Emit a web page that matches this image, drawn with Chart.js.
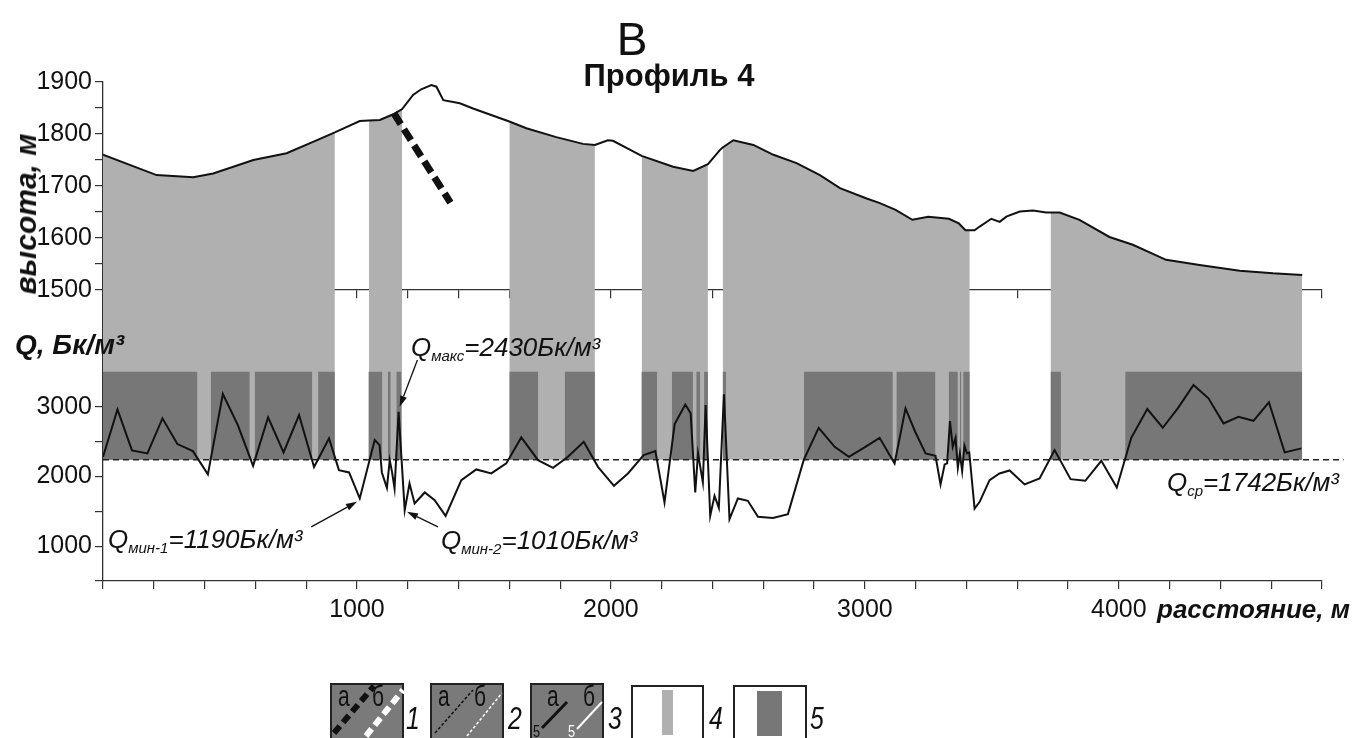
<!DOCTYPE html>
<html>
<head>
<meta charset="utf-8">
<script src="https://cdn.jsdelivr.net/npm/chart.js@4"></script>
<style>
  body { margin: 0; background: #fff; overflow: hidden; }
  #wrap { position: relative; width: 1353px; height: 738px; font-family: "Liberation Sans", Arial, sans-serif; color: #111; }
  #wrap canvas, #wrap svg { position: absolute; left: 0; top: 0; }
  .t { position: absolute; white-space: nowrap; line-height: 1; }
  .q { font-style: italic; font-size: 26px; }
  .q .s { font-size: 15px; position: relative; top: 5px; }
  .bi { font-weight: bold; font-style: italic; }
</style>
</head>
<body>
<div id="wrap">
  <canvas id="chart" width="1353" height="738"></canvas>

  <div class="t" style="left:632px;top:16px;font-size:46px;transform:translateX(-50%)">В</div>
  <div class="t" style="left:669px;top:60px;font-size:31px;font-weight:bold;transform:translateX(-50%)">Профиль 4</div>
  <div class="t bi" style="left:26px;top:214px;font-size:30px;transform:translate(-50%,-50%) rotate(-90deg)">высота, м</div>
  <div class="t bi" style="left:15px;top:331px;font-size:28px">Q, Бк/м³</div>
  <div class="t bi" style="left:1157px;top:596px;font-size:26px">расстояние, м</div>

  <div class="t q" style="left:411px;top:334px">Q<span class="s">макс</span>=2430Бк/м³</div>
  <div class="t q" style="left:108px;top:526px">Q<span class="s">мин-1</span>=1190Бк/м³</div>
  <div class="t q" style="left:441px;top:527px">Q<span class="s">мин-2</span>=1010Бк/м³</div>
  <div class="t q" style="left:1167px;top:469px">Q<span class="s">ср</span>=1742Бк/м³</div>

  <svg width="1353" height="738" font-family="Liberation Sans, Arial, sans-serif">
    <!-- 1 -->
    <rect x="331" y="684" width="72" height="60" fill="#7a7a7a" stroke="#222" stroke-width="2"/>
    <text transform="translate(338,706) scale(0.7,1)" font-size="30" fill="#111">а</text>
    <text transform="translate(372,706) scale(0.7,1)" font-size="30" fill="#111">б</text>
    <line x1="334" y1="733" x2="374" y2="686" stroke="#111" stroke-width="6" stroke-dasharray="9 5"/>
    <line x1="366" y1="736" x2="403" y2="690" stroke="#fff" stroke-width="6" stroke-dasharray="9 5"/>
    <text transform="translate(406,729) scale(0.8,1)" font-size="31" font-style="italic" fill="#111">1</text>
    <!-- 2 -->
    <rect x="431" y="684" width="72" height="60" fill="#7a7a7a" stroke="#222" stroke-width="2"/>
    <text transform="translate(438,706) scale(0.7,1)" font-size="30" fill="#111">а</text>
    <text transform="translate(474,706) scale(0.7,1)" font-size="30" fill="#111">б</text>
    <line x1="435" y1="733" x2="473" y2="690" stroke="#111" stroke-width="1.5" stroke-dasharray="3 2"/>
    <line x1="467" y1="736" x2="502" y2="693" stroke="#fff" stroke-width="1.5" stroke-dasharray="3 2"/>
    <text transform="translate(508,729) scale(0.8,1)" font-size="31" font-style="italic" fill="#111">2</text>
    <!-- 3 -->
    <rect x="531" y="684" width="72" height="60" fill="#7a7a7a" stroke="#222" stroke-width="2"/>
    <text transform="translate(547,706) scale(0.7,1)" font-size="30" fill="#111">а</text>
    <text transform="translate(583,706) scale(0.7,1)" font-size="30" fill="#111">б</text>
    <text transform="translate(533,737) scale(0.8,1)" font-size="16" fill="#111">5</text>
    <text transform="translate(568,737) scale(0.8,1)" font-size="16" fill="#fff">5</text>
    <line x1="542" y1="728" x2="567" y2="702" stroke="#111" stroke-width="3"/>
    <line x1="577" y1="729" x2="602" y2="702" stroke="#fff" stroke-width="2"/>
    <text transform="translate(608,729) scale(0.8,1)" font-size="31" font-style="italic" fill="#111">3</text>
    <!-- 4 -->
    <rect x="632" y="686" width="71" height="60" fill="#fff" stroke="#222" stroke-width="2"/>
    <rect x="662" y="690" width="11" height="45" fill="#b0b0b0"/>
    <text transform="translate(709,729) scale(0.8,1)" font-size="31" font-style="italic" fill="#111">4</text>
    <!-- 5 -->
    <rect x="734" y="686" width="72" height="60" fill="#fff" stroke="#222" stroke-width="2"/>
    <rect x="757" y="691" width="25" height="45" fill="#777"/>
    <text transform="translate(810,729) scale(0.8,1)" font-size="31" font-style="italic" fill="#111">5</text>
  </svg>
</div>

<script>
// высотный профиль (м)
const profileDist = [0, 211, 355, 434, 592, 723, 827, 913, 1011, 1047, 1090, 1143, 1178, 1221, 1253, 1293, 1313, 1340, 1405, 1457,
  1600, 1667, 1785, 1890, 1937, 1988, 2008, 2121, 2245, 2324, 2382, 2429, 2440, 2482, 2561, 2640, 2731, 2823, 2902, 3007,
  3059, 3121, 3187, 3250, 3331, 3370, 3396, 3413, 3432, 3452, 3498, 3531, 3557, 3610, 3662, 3714, 3731, 3767, 3845, 3963,
  4055, 4186, 4318, 4476, 4607, 4722];
const profileElev = [1760, 1721, 1717, 1724, 1750, 1763, 1785, 1803, 1825, 1826, 1827, 1838, 1848, 1875, 1886, 1894, 1891, 1865, 1859, 1849,
  1824, 1811, 1794, 1781, 1779, 1788, 1787, 1758, 1737, 1729, 1742, 1769, 1774, 1788, 1779, 1760, 1744, 1721, 1696, 1676,
  1667, 1654, 1635, 1641, 1637, 1628, 1615, 1615, 1615, 1622, 1637, 1631, 1641, 1651, 1653, 1649, 1649, 1649, 1635, 1602,
  1587, 1558, 1548, 1537, 1532, 1529];

// объёмная активность Q (Бк/м3)
const qDist = [0, 57, 114, 175, 234, 293, 354, 413, 472, 531, 591, 650, 711, 772, 831, 890, 929, 969, 1011, 1070,
  1089, 1098, 1118, 1129, 1138, 1148, 1164, 1188, 1207, 1227, 1267, 1306, 1349, 1411, 1470, 1529, 1588, 1647, 1713, 1772,
  1831, 1893, 1949, 2012, 2067, 2129, 2175, 2211, 2251, 2293, 2314, 2332, 2343, 2362, 2373, 2391, 2408, 2425, 2445, 2467,
  2500, 2539, 2579, 2638, 2697, 2759, 2818, 2881, 2937, 2999, 3058, 3117, 3160, 3198, 3239, 3278, 3298, 3314, 3324, 3335,
  3346, 3357, 3366, 3374, 3383, 3392, 3402, 3411, 3432, 3452, 3491, 3530, 3570, 3629, 3688, 3747, 3810, 3868, 3931, 3992,
  4049, 4112, 4173, 4232, 4294, 4353, 4412, 4471, 4530, 4591, 4653, 4719];
const qValues = [2280, 2962, 2373, 2330, 2833, 2464, 2363, 2029, 3182, 2737, 2152, 2847, 2345, 2880, 2134, 2546, 2090, 2057, 1684, 2521,
  2449, 2057, 1836, 2234, 2066, 1828, 2928, 1516, 1899, 1612, 1770, 1660, 1434, 1947, 2100, 2043, 2187, 2560, 2234, 2124,
  2282, 2497, 2138, 1865, 2043, 2306, 2363, 1627, 2750, 3030, 2905, 1770, 2330, 1914, 3024, 1434, 1721, 1549, 3178, 1387,
  1684, 1650, 1420, 1405, 1459, 2234, 2698, 2425, 2282, 2416, 2554, 2187, 2976, 2641, 2330, 2296, 1885, 2172, 2187, 2794,
  2425, 2554, 2124, 2330, 2076, 2440, 2330, 2345, 1540, 1636, 1947, 2043, 2086, 1885, 1971, 2378, 1961, 1937, 2224, 1842,
  2554, 2966, 2698, 2976, 3311, 3120, 2761, 2856, 2798, 3063, 2345, 2402];

// зоны (м): светлые (4) и тёмные (5)
const lightZones = [[0, 913], [1047, 1178], [1600, 1937], [2121, 2382], [2440, 3413], [3731, 4722]];
const darkZones = [[0, 372], [424, 578], [597, 824], [847, 913], [1045, 1100], [1122, 1133], [1155, 1175],
  [1600, 1713], [1818, 1937], [2120, 2182], [2240, 2323], [2336, 2352], [2367, 2382], [2440, 2454],
  [2760, 3110], [3124, 3278], [3330, 3366], [3374, 3380], [3387, 3413], [3731, 3772], [4025, 4722]];
const darkTop = 3500;
const qMean = 2240;
const qMeanEnd = 4885;

// разлом (линия 1а)
const faultDist = [1145, 1368];
const faultElev = [1840, 1668];

// деления осей
const distTicks = [0, 200, 400, 600, 800, 1000, 1200, 1400, 1600, 1800, 2000, 2200, 2400, 2600, 2800, 3000,
  3200, 3400, 3600, 3800, 4000, 4200, 4400, 4600, 4800];
const elevTicks = [1500, 1550, 1600, 1650, 1700, 1750, 1800, 1850, 1900];
const qTicks = [500, 1000, 1500, 2000, 2500, 3000];

// стрелки подписей: [расстояние, Q]
const arrows = [
  { from: [1238, 3670], to: [1168, 3000] },
  { from: [820, 1276], to: [1000, 1635] },
  { from: [1319, 1276], to: [1197, 1492] }
];

const LIGHT = '#b0b0b0';
const DARK = '#777777';
const INK = '#111111';
const Q_MAX = 4674;

const profile = profileDist.map((d, i) => ({ x: d, y: profileElev[i] }));
const qSeries = qDist.map((d, i) => ({ x: d, y: qValues[i] }));

const datasets = [];

datasets.push({
  data: profile, yAxisID: 'yE', borderColor: INK, borderWidth: 2,
  pointRadius: 0, fill: false, order: 1
});
datasets.push({
  data: qSeries, yAxisID: 'yQ', borderColor: INK, borderWidth: 2,
  pointRadius: 0, fill: false, order: 1
});
datasets.push({
  data: [{ x: 0, y: qMean }, { x: qMeanEnd, y: qMean }], yAxisID: 'yQ',
  borderColor: '#222', borderWidth: 1.5, borderDash: [6, 4], pointRadius: 0, fill: false, clip: false, order: 2
});
datasets.push({
  data: faultDist.map((d, i) => ({ x: d, y: faultElev[i] })), yAxisID: 'yE',
  borderColor: INK, borderWidth: 7, borderDash: [13, 6], borderCapStyle: 'butt', pointRadius: 0, fill: false, clip: false, order: 0
});

lightZones.forEach(([a, b]) => {
  datasets.push({
    data: profile.filter(p => p.x >= a && p.x <= b), yAxisID: 'yE',
    borderColor: 'rgba(0,0,0,0)', borderWidth: 0, backgroundColor: LIGHT,
    pointRadius: 0, fill: 'start', order: 20
  });
  datasets.push({
    data: [{ x: a, y: Q_MAX }, { x: b, y: Q_MAX }], yAxisID: 'yQ',
    borderColor: 'rgba(0,0,0,0)', borderWidth: 0, backgroundColor: LIGHT,
    pointRadius: 0, fill: { value: qMean }, order: 20
  });
});

darkZones.forEach(([a, b]) => {
  datasets.push({
    data: [{ x: a, y: darkTop }, { x: b, y: darkTop }], yAxisID: 'yQ',
    borderColor: 'rgba(0,0,0,0)', borderWidth: 0, backgroundColor: DARK,
    pointRadius: 0, fill: { value: qMean }, order: 19
  });
});

const arrowPlugin = {
  id: 'arrows',
  afterDatasetsDraw(chart) {
    const xs = chart.scales.x, ys = chart.scales.yQ, ctx = chart.ctx;
    ctx.save();
    ctx.strokeStyle = INK;
    ctx.fillStyle = INK;
    ctx.lineWidth = 1.3;
    arrows.forEach(a => {
      const x1 = xs.getPixelForValue(a.from[0]), y1 = ys.getPixelForValue(a.from[1]);
      const x2 = xs.getPixelForValue(a.to[0]), y2 = ys.getPixelForValue(a.to[1]);
      const ang = Math.atan2(y2 - y1, x2 - x1);
      const hl = 11, hw = 3.5;
      const bx = x2 - hl * Math.cos(ang), by = y2 - hl * Math.sin(ang);
      ctx.beginPath();
      ctx.moveTo(x1, y1);
      ctx.lineTo(bx, by);
      ctx.stroke();
      ctx.beginPath();
      ctx.moveTo(x2, y2);
      ctx.lineTo(bx + hw * Math.sin(ang), by - hw * Math.cos(ang));
      ctx.lineTo(bx - hw * Math.sin(ang), by + hw * Math.cos(ang));
      ctx.closePath();
      ctx.fill();
    });
    ctx.restore();
  }
};

Chart.defaults.font.family = "'Liberation Sans', Arial, sans-serif";
Chart.defaults.color = INK;

const axisGrid = { drawOnChartArea: false, drawTicks: true, tickLength: 8, color: '#333', lineWidth: 1.2 };
const axisBorder = { display: true, color: '#333', width: 1.3 };
const setTicks = list => s => { s.ticks = list.map(v => ({ value: v })); };

new Chart(document.getElementById('chart'), {
  type: 'line',
  data: { datasets },
  options: {
    responsive: false,
    animation: false,
    devicePixelRatio: 1,
    layout: { padding: { top: 82, right: 31, bottom: 117, left: 0 } },
    plugins: { legend: { display: false }, tooltip: { enabled: false } },
    elements: { line: { tension: 0 } },
    scales: {
      x: {
        type: 'linear', position: 'bottom', min: 0, max: 4800,
        grid: axisGrid, border: axisBorder,
        ticks: {
          autoSkip: false, maxRotation: 0, padding: 6,
          font: { size: 25 },
          callback: v => (v > 0 && Math.round(v) % 1000 === 0) ? String(Math.round(v)) : ''
        },
        afterBuildTicks: setTicks(distTicks),
        afterFit: s => { s.height = 40; }
      },
      xMid: {
        type: 'linear', axis: 'x', position: { yE: 1500 }, min: 0, max: 4800,
        grid: axisGrid, border: axisBorder,
        ticks: { autoSkip: false, display: false },
        afterBuildTicks: setTicks(distTicks)
      },
      yQ: {
        type: 'linear', position: 'left', stack: 'v', stackWeight: 291,
        min: 500, max: Q_MAX,
        grid: axisGrid, border: axisBorder,
        ticks: {
          autoSkip: false, padding: 3, font: { size: 25 },
          callback: v => (Math.round(v) % 1000 === 0) ? String(Math.round(v)) : ''
        },
        afterBuildTicks: setTicks(qTicks),
        afterFit: s => { s.width = 103; }
      },
      yE: {
        type: 'linear', position: 'left', stack: 'v', stackWeight: 208,
        min: 1500, max: 1900,
        grid: axisGrid, border: axisBorder,
        ticks: {
          autoSkip: false, padding: 3, font: { size: 25 },
          callback: v => (Math.round(v) % 100 === 0) ? String(Math.round(v)) : ''
        },
        afterBuildTicks: setTicks(elevTicks),
        afterFit: s => { s.width = 103; }
      }
    }
  },
  plugins: [arrowPlugin]
});
</script>
</body>
</html>
